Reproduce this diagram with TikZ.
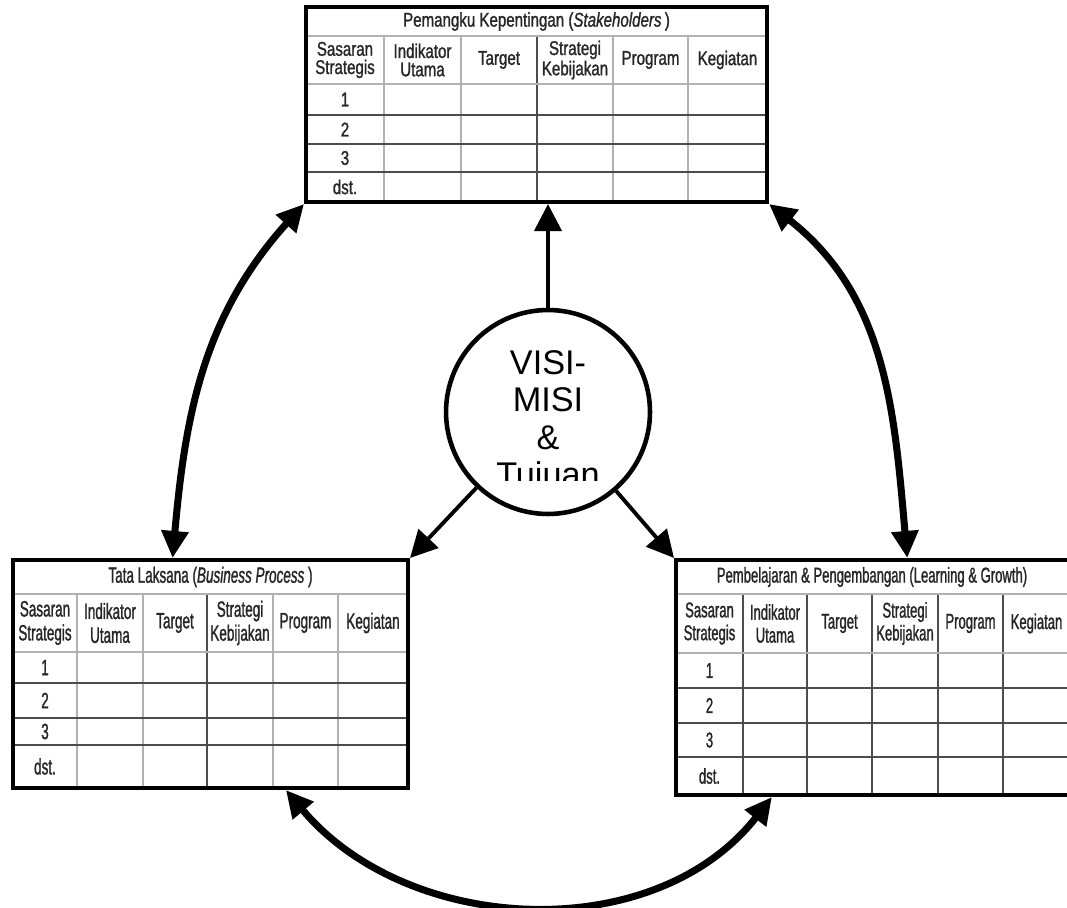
\documentclass[tikz,border=0pt]{standalone}
\usepackage{fontspec}
\setmainfont{Liberation Sans}
\newfontfamily\atasfont[FakeStretch=0.76,FakeBold=1.2]{Liberation Sans}
\newfontfamily\bawahfont[FakeStretch=0.61,FakeBold=1.2]{Liberation Sans}
\usetikzlibrary{positioning,arrows.meta,fit,calc}

\begin{document}
\begin{tikzpicture}[x=0.02cm, y=-0.02cm,
			visinode/.style={circle, draw=black, fill=white, line width=2.6pt, minimum size=4.08cm, inner sep=0pt},
			visitekst/.style={font=\fontsize{19.5}{21.3}\selectfont, align=center, inner sep=0pt},
			bingkai/.style={draw=black, line width=2.3pt, inner sep=0pt},
			kisi/.style={gray!60, line width=0.9pt},
			garis/.style={black!70, line width=1.1pt},
			selatas/.style={font=\atasfont\fontsize{11.3}{10.4}\selectfont, text=black!85, align=center, inner sep=0pt},
			selkiri/.style={font=\bawahfont\fontsize{12.6}{13.6}\selectfont, text=black!85, align=center, inner sep=0pt},
			selkanan/.style={font=\bawahfont\fontsize{12.2}{13}\selectfont, text=black!85, align=center, inner sep=0pt},
			pijl/.style={-{Triangle[width=0.54cm,length=0.54cm]}, line width=2.2pt},
			dubbel/.style={{Triangle[width=0.52cm,length=0.54cm]}-{Triangle[width=0.52cm,length=0.54cm]}, line width=4pt},
		]
		\useasboundingbox (0,0) rectangle (1067,908);
		\clip (0,0) rectangle (1067,908);
	
		%Tabel pemangku kepentingan
		\foreach \x in {384,461,613,688} \draw[kisi] (\x,36) -- (\x,202);
		\draw[garis] (537,36) -- (537,202);
		\foreach \y in {36,84} \draw[kisi] (306,\y) -- (767,\y);
		\foreach \y in {115,144,172} \draw[garis] (306,\y) -- (767,\y);
		\node[bingkai, fit={(306,7) (767,202)}] (stake) {};
		\node[selatas] (stake-judul) at (536.5,21.5) {Pemangku Kepentingan (\textit{Stakeholders}\,)};
		\foreach \x/\teks [count=\i] in {345/{Sasaran\\Strategis}, 422.5/{Indikator\\Utama}, 499/Target, 575/{Strategi\\Kebijakan}, 650.5/Program, 727.5/Kegiatan}
			\node[selatas] (stake-k\i) at (\x,60) {\teks};
		\foreach \y/\teks [count=\i] in {99.5/1, 129.5/2, 158/3, 187/dst.}
			\node[selatas] (stake-b\i) at (345,\y) {\teks};
	
		%Tabel tata laksana
		\foreach \x in {77,143,273,338} \draw[kisi] (\x,594) -- (\x,788);
		\draw[garis] (207,594) -- (207,788);
		\foreach \y in {594,652} \draw[kisi] (13,\y) -- (408,\y);
		\foreach \y in {683,718,745} \draw[garis] (13,\y) -- (408,\y);
		\node[bingkai, fit={(13,560) (408,788)}] (bisnis) {};
		\node[selkiri] (bisnis-judul) at (210.5,577) {Tata Laksana (\textit{Business Process}\,)};
		\foreach \x/\teks [count=\i] in {45/{Sasaran\\Strategis}, 110/{Indikator\\Utama}, 175/Target, 240/{Strategi\\Kebijakan}, 305.5/Program, 373/Kegiatan}
			\node[selkiri] (bisnis-k\i) at (\x,623) {\teks};
		\foreach \y/\teks [count=\i] in {667.5/1, 700.5/2, 731.5/3, 766.5/dst.}
			\node[selkiri] (bisnis-b\i) at (45,\y) {\teks};
	
		%Tabel pembelajaran
		\foreach \x in {743,807,938,1003} \draw[garis] (\x,594) -- (\x,795);
		\draw[garis] (872,594) -- (872,795);
		\foreach \y in {594,653} \draw[kisi] (676,\y) -- (1070,\y);
		\foreach \y in {688,723,757} \draw[garis] (676,\y) -- (1070,\y);
		\node[bingkai, fit={(676,560) (1070,795)}] (belajar) {};
		\node[selkanan] (belajar-judul) at (872,577) {Pembelajaran \& Pengembangan (Learning \& Growth)};
		\foreach \x/\teks [count=\i] in {709.5/{Sasaran\\Strategis}, 775/{Indikator\\Utama}, 839.5/Target, 905/{Strategi\\Kebijakan}, 970.5/Program, 1036.5/Kegiatan}
			\node[selkanan] (belajar-k\i) at (\x,623.5) {\teks};
		\foreach \y/\teks [count=\i] in {670.5/1, 705.5/2, 740/3, 776/dst.}
			\node[selkanan] (belajar-b\i) at (709.5,\y) {\teks};
	
		%Visi misi
		\node[visinode] (visi) at (548,412) {};
		\begin{scope}
			\clip (440,300) rectangle (660,480);
			\node[visitekst, anchor=north] (visilabel) at (548,350) {VISI-\\MISI\\\&\\Tujuan};
		\end{scope}
	
		%Lines
		\draw[pijl] (visi.north) -- (visi.north |- stake.south);
		\draw[pijl] (visi) -- (bisnis.north east);
		\draw[pijl] (visi) -- (belajar.north west);
		\draw[dubbel] ($(bisnis.north west)!0.405!(bisnis.north east)$) to[out=85, in=228] (stake.south west);
		\draw[dubbel] (stake.south east) to[out=-38, in=95] ($(belajar.north west)!0.586!(belajar.north east)$);
		\draw[dubbel] ($(bisnis.south west)!0.689!(bisnis.south east)$) to[out=-50, in=-128] ($(belajar.south west)!0.246!(belajar.south east)$);
	
	\end{tikzpicture}
\end{document}
